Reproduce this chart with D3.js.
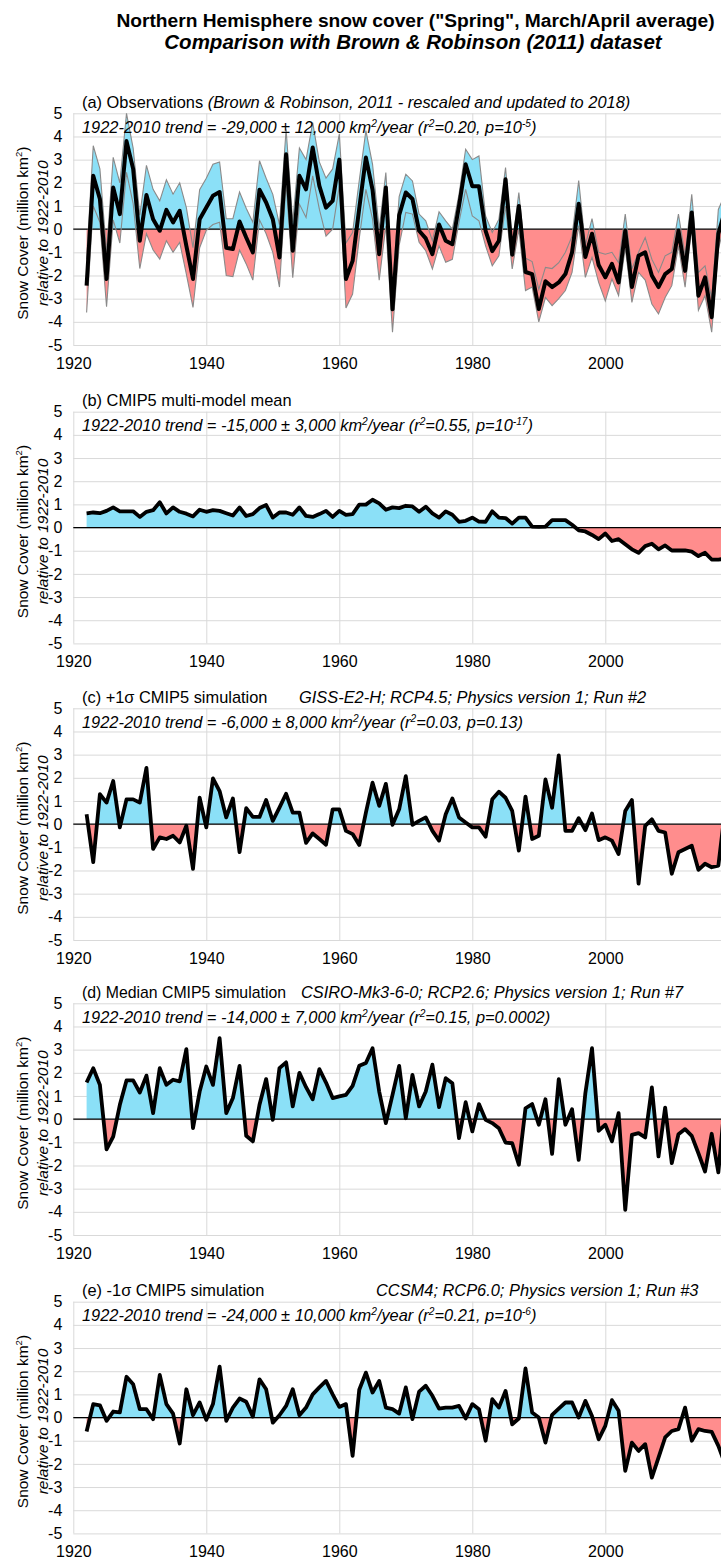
<!DOCTYPE html>
<html>
<head>
<meta charset="utf-8">
<script src="https://cdn.jsdelivr.net/npm/d3@7"></script>
<style>
  body { margin: 0; background: #fff; }
  svg { display: block; font-family: "Liberation Sans", Arial, sans-serif; }
</style>
</head>
<body>
<svg id="chart" width="721" height="1562"></svg>
<script>
// ---- data: spring (Mar/Apr) snow cover anomalies, million km², 1922-2018 ----
const firstYear = 1922;

// (a) observations: best estimate and uncertainty envelope
const obsMean = [
  -2.44, 2.3, 1.3, -2.15, 1.8, 0.65, 3.8, 2.6, -0.5, 1.47,
  0.43, -0.07, 0.83, 0.29, 0.79, -0.72, -2.15, 0.43, 0.93, 1.44,
  1.6, -0.8, -0.86, 0.33, -0.36, -1.0, 1.7, 1.15, 0.43, -1.22,
  3.23, -0.93, 2.3, 1.72, 3.52, 1.87, 0.93, 1.22, 3.0, -2.15,
  -1.37, 0.9, 3.09, 1.7, -1.08, 1.8, -3.46, 0.6, 1.58, 1.3,
  -0.07, -0.4, -1.08, 0.2, -0.5, -0.65, 1.0, 2.8, 1.85, 1.85,
  -0.07, -0.95, -0.5, 2.15, -1.1, 1.0, -1.85, -1.94, -3.45, -2.25,
  -2.5, -2.3, -1.94, -1.0, 1.1, -1.2, -0.2, -1.55, -2.08, -1.5,
  -2.3, -0.07, -2.5, -1.15, -1.0, -2.0, -2.5, -1.94, -1.72, -0.07,
  -1.8, 0.72, -2.87, -2.08, -3.8, -0.2, 0.8
];
const obsUpper = [
  -1.3, 3.6, 2.6, -1.0, 3.1, 2.0, 5.0, 3.5, 0.6, 2.75,
  1.72, 1.22, 2.13, 1.51, 2.0, 0.93, -0.8, 1.7, 2.2, 2.8,
  2.9, 0.45, 0.45, 1.6, 0.9, 0.3, 2.95, 2.2, 1.5, 0.2,
  4.3, 0.3, 3.5, 3.0, 4.6, 2.9, 2.2, 2.6, 4.1, -0.6,
  -0.15, 2.1, 4.25, 2.8, 0.0, 2.44, -2.5, 1.4, 2.37, 2.08,
  0.65, 0.36, -0.5, 0.75, 0.36, 0.0, 1.5, 3.45, 3.0, 3.16,
  0.57, -0.14, 0.43, 2.66, -0.72, 1.58, -1.25, -1.4, -2.6, -1.65,
  -1.7, -1.45, -1.0, -0.3, 2.1, -0.7, 0.45, -1.0, -1.08, -1.0,
  -1.45, 0.65, -1.72, -1.0, -0.36, -1.3, -1.87, -1.15, -1.0, 0.65,
  -1.15, 1.5, -1.87, -1.58, -3.0, 0.85, 1.5
];
const obsLower = [
  -3.6, 1.0, 0.3, -3.35, 0.4, -0.6, 2.45, 1.1, -1.7, -0.2,
  -0.9, -1.29, -0.5, -1.0, -0.57, -1.94, -3.38, -0.8, -0.05, 0.2,
  0.3, -2.0, -2.05, -0.9, -1.5, -2.2, 0.4, -0.2, -1.0, -2.5,
  2.0, -2.1, 1.08, 0.5, 2.3, 0.86, -0.3, 0.0, 1.87, -3.4,
  -2.8, -0.4, 1.72, 0.43, -2.2, 0.14, -4.45, -0.7, 0.72, 0.65,
  -0.57, -0.93, -1.72, -0.72, -1.43, -1.3, 0.3, 1.72, 0.57, 0.36,
  -0.72, -1.58, -1.15, 1.0, -1.72, 0.0, -2.65, -2.5, -4.0, -2.95,
  -3.3, -3.0, -2.65, -1.87, 0.15, -2.08, -1.22, -2.3, -3.1, -2.15,
  -2.87, -0.8, -3.16, -1.87, -2.2, -3.23, -3.66, -2.95, -2.44, -0.72,
  -2.5, 0.15, -3.5, -2.87, -4.45, -0.86, 0.3
];

// (b) CMIP5 multi-model mean
const multiModelMean = [
  0.61, 0.65, 0.62, 0.72, 0.87, 0.7, 0.7, 0.7, 0.46, 0.68,
  0.75, 1.09, 0.61, 0.87, 0.68, 0.6, 0.48, 0.77, 0.68, 0.75,
  0.72, 0.62, 0.52, 0.87, 0.5, 0.58, 0.84, 0.97, 0.43, 0.65,
  0.65, 0.55, 0.87, 0.5, 0.46, 0.58, 0.72, 0.46, 0.72, 0.55,
  0.58, 0.99, 0.99, 1.2, 1.04, 0.77, 0.87, 0.84, 0.94, 0.91,
  0.68, 0.9, 0.61, 0.43, 0.7, 0.55, 0.25, 0.29, 0.43, 0.26,
  0.25, 0.7, 0.43, 0.41, 0.17, 0.43, 0.43, 0.04, 0.03, 0.04,
  0.32, 0.32, 0.32, 0.12, -0.12, -0.17, -0.32, -0.5, -0.26, -0.58,
  -0.5, -0.72, -0.94, -1.09, -0.8, -0.7, -0.94, -0.77, -0.99, -0.99,
  -0.99, -1.04, -1.23, -1.09, -1.38, -1.38, -1.35
];

// (c) +1 sigma simulation
const plusSigmaRun = [
  0.43, -1.64, 1.29, 0.93, 1.86, -0.14, 1.07, 1.07, 0.93, 2.43,
  -1.07, -0.57, -0.64, -0.5, -0.79, -0.07, -1.93, 1.14, -0.14, 1.97,
  1.43, 0.29, 1.11, -1.21, 0.69, 0.31, 0.31, 1.04, 0.14, 0.71,
  1.31, 0.5, 0.5, -0.81, -0.4, -0.64, -0.89, 0.64, 0.64, -0.29,
  -0.43, -0.9, 0.5, 1.79, 0.79, 1.74, -0.03, 0.64, 2.07, -0.03,
  0.14, 0.29, -0.29, -0.71, 0.43, 1.11, 0.29, 0.07, -0.14, -0.14,
  -0.54, 1.07, 1.4, 1.14, 0.57, -1.14, 1.19, -0.64, -0.5, 1.93,
  0.71, 2.97, -0.29, -0.29, 0.26, -0.26, 0.46, -0.69, -0.57, -0.71,
  -1.29, 0.57, 1.04, -2.57, -0.07, 0.21, -0.29, -0.36, -2.14, -1.21,
  -1.07, -0.93, -1.97, -1.71, -1.86, -1.79, 0.6
];

// (d) median simulation
const medianRun = [
  1.58, 2.2, 1.48, -1.3, -0.75, 0.62, 1.67, 1.67, 1.15, 1.88,
  0.26, 2.2, 1.48, 1.7, 1.63, 3.02, -0.39, 1.19, 2.27, 1.48,
  3.5, 0.26, 0.91, 2.3, -0.72, -0.96, 0.62, 1.73, -0.03, 2.2,
  2.45, 0.55, 2.0, 1.38, 0.86, 2.16, 1.58, 0.91, 0.98, 1.05,
  1.44, 2.3, 2.42, 3.06, 1.19, -0.17, 1.05, 2.3, 0.04, 1.91,
  0.55, 1.19, 2.35, 0.52, 1.77, 1.55, -0.82, 0.73, -0.53, 0.65,
  -0.03, -0.17, -0.39, -1.01, -1.04, -1.97, 0.47, 0.65, -0.24, 0.86,
  -1.5, 1.73, -0.24, 0.43, -1.76, 1.12, 3.06, -0.5, -0.24, -0.96,
  0.26, -3.91, -0.68, -0.6, -0.79, 1.37, -1.61, 0.5, -1.9, -0.65,
  -0.43, -0.72, -1.47, -2.26, -0.63, -2.3, 0.8
];

// (e) -1 sigma simulation
const minusSigmaRun = [
  -0.6, 0.58, 0.53, -0.14, 0.26, 0.22, 1.76, 1.44, 0.36, 0.36,
  -0.07, 1.84, 0.58, 0.17, -1.12, 1.22, 0.1, 0.65, -0.1, 0.58,
  2.2, -0.14, 0.43, 0.82, 0.68, 0.04, 1.65, 1.22, -0.22, 0.1,
  0.5, 1.22, 0.1, 0.43, 1.0, 1.3, 1.58, 1.0, 0.46, 0.58,
  -1.65, 1.2, 1.94, 1.08, 1.58, 0.43, 0.36, 0.17, 1.3, -0.07,
  1.12, 1.37, 0.94, 0.39, 0.43, 0.43, 0.5, -0.04, 0.58, 0.36,
  -1.0, 0.79, 0.43, 1.15, -0.29, -0.04, 2.12, 0.22, 0.0, -1.08,
  0.12, 0.39, 0.65, 0.65, 0.0, 0.72, 0.07, -0.94, -0.36, 0.75,
  0.29, -2.3, -1.08, -1.44, -1.15, -2.59, -1.73, -0.86, -0.58, -0.5,
  0.43, -1.0, -0.5, -0.58, -0.62, -1.22, -2.0
];

// axis ticks
const yTicks = [5, 4, 3, 2, 1, 0, -1, -2, -3, -4, -5];
const yTickLabels = ["5", "4", "3", "2", "1", "0", "-1", "-2", "-3", "-4", "-5"];
const xGridYears = [1920, 1940, 1960, 1980, 2000, 2020];
const xTicks = [1920, 1940, 1960, 1980, 2000];
const xTickLabels = ["1920", "1940", "1960", "1980", "2000"];

// text
const mainTitle1 = "Northern Hemisphere snow cover (\"Spring\", March/April average)";
const mainTitle2 = "Comparison with Brown & Robinson (2011) dataset";
const yTitle1 = "Snow Cover (million km^{2})";
const yTitle2 = "relative to 1922-2010";

const panels = [
  { id: "a", top: 113.3,
    title: [{ t: "(a) Observations " }, { t: "(Brown & Robinson, 2011 - rescaled and updated to 2018)", i: true }],
    trend: "1922-2010 trend = -29,000 ± 12,000 km^{2}/year (r^{2}=0.20, p=10^{-5})",
    mean: obsMean, upper: obsUpper, lower: obsLower },
  { id: "b", top: 411.7,
    title: [{ t: "(b) CMIP5 multi-model mean" }],
    trend: "1922-2010 trend = -15,000 ± 3,000 km^{2}/year (r^{2}=0.55, p=10^{-17})",
    mean: multiModelMean },
  { id: "c", top: 708.3,
    title: [{ t: "(c) +1σ CMIP5 simulation" }],
    run: { t: "GISS-E2-H; RCP4.5; Physics version 1; Run #2", x: 299 },
    trend: "1922-2010 trend = -6,000 ± 8,000 km^{2}/year (r^{2}=0.03, p=0.13)",
    mean: plusSigmaRun },
  { id: "d", top: 1003.3,
    title: [{ t: "(d) Median CMIP5 simulation" }], titleWidth: 204,
    run: { t: "CSIRO-Mk3-6-0; RCP2.6; Physics version 1; Run #7", x: 301, width: 382 },
    trend: "1922-2010 trend = -14,000 ± 7,000 km^{2}/year (r^{2}=0.15, p=0.0002)",
    mean: medianRun },
  { id: "e", top: 1301.7,
    title: [{ t: "(e) -1σ CMIP5 simulation" }],
    run: { t: "CCSM4; RCP6.0; Physics version 1; Run #3", x: 376 },
    trend: "1922-2010 trend = -24,000 ± 10,000 km^{2}/year (r^{2}=0.21, p=10^{-6})",
    mean: minusSigmaRun }
];

// ---- layout & styles ----
const plotH = 231.7;
const textSize = 16.4;
const tickSize = 16;
const blueFill = "#8be0f7";
const redFill = "#ff8d8d";
const gridColor = "#d9d9d9";
const fontStack = '"Liberation Sans", Arial, sans-serif';

const svg = d3.select("#chart");
const x = d3.scaleLinear().domain([1920, 2020]).range([73.3, 738.3]);

// Writes text containing ^{...} superscripts into a text element.
function addRich(textSel, str, italic, size) {
  const parts = str.split(/(\^\{[^}]*\})/).filter(s => s.length);
  let raised = false;
  parts.forEach(p => {
    const sup = p.startsWith("^{");
    const s = textSel.append("tspan")
      .text(sup ? p.slice(2, -1) : p)
      .style("font-style", italic ? "italic" : "normal");
    if (sup) {
      s.attr("font-size", size * 0.62).attr("dy", -size * 0.38);
      raised = true;
    } else if (raised) {
      s.attr("dy", size * 0.38);
      raised = false;
    }
  });
}

// main title
svg.append("text")
  .attr("x", 415.5).attr("y", 27)
  .attr("text-anchor", "middle")
  .attr("font-size", 19.2).attr("font-weight", "bold")
  .text(mainTitle1);
svg.append("text")
  .attr("x", 413).attr("y", 49)
  .attr("text-anchor", "middle")
  .attr("font-size", 20.5).attr("font-weight", "bold").attr("font-style", "italic")
  .text(mainTitle2);

panels.forEach(p => {
  const top = p.top, bottom = top + plotH;
  const y = d3.scaleLinear().domain([-5, 5]).range([bottom, top]);
  const g = svg.append("g").attr("class", "panel-" + p.id);
  const data = p.mean.map((v, i) => ({ year: firstYear + i, v,
    up: p.upper ? p.upper[i] : v, lo: p.lower ? p.lower[i] : v }));

  // gridlines via axes
  g.append("g")
    .attr("transform", `translate(${x(1920)},0)`)
    .call(d3.axisLeft(y).tickValues(yTicks).tickSize(-(x(2020) - x(1920))).tickFormat(""))
    .call(a => a.select(".domain").remove())
    .call(a => a.selectAll("line").attr("stroke", gridColor).attr("stroke-width", 1));
  g.append("g")
    .attr("transform", `translate(0,${bottom})`)
    .call(d3.axisBottom(x).tickValues(xGridYears).tickSize(-plotH).tickFormat(""))
    .call(a => a.select(".domain").remove())
    .call(a => a.selectAll("line").attr("stroke", gridColor).attr("stroke-width", 1));

  // clip regions above and below zero
  const defs = g.append("defs");
  defs.append("clipPath").attr("id", "above-" + p.id)
    .append("rect").attr("x", x(1920)).attr("y", top - 20)
    .attr("width", x(2020) - x(1920)).attr("height", y(0) - top + 20);
  defs.append("clipPath").attr("id", "below-" + p.id)
    .append("rect").attr("x", x(1920)).attr("y", y(0))
    .attr("width", x(2020) - x(1920)).attr("height", bottom - y(0));

  const areaUp = d3.area().x(d => x(d.year)).y0(y(0)).y1(d => y(d.up));
  const areaLo = d3.area().x(d => x(d.year)).y0(y(0)).y1(d => y(d.lo));
  g.append("path").datum(data).attr("d", areaUp)
    .attr("fill", blueFill).attr("clip-path", `url(#above-${p.id})`);
  g.append("path").datum(data).attr("d", areaLo)
    .attr("fill", redFill).attr("clip-path", `url(#below-${p.id})`);

  // zero line
  g.append("line")
    .attr("x1", x(1920)).attr("x2", x(2020))
    .attr("y1", y(0)).attr("y2", y(0))
    .attr("stroke", "#000").attr("stroke-width", 1.3);

  // envelope lines
  if (p.upper) {
    const lineUp = d3.line().x(d => x(d.year)).y(d => y(d.up));
    const lineLo = d3.line().x(d => x(d.year)).y(d => y(d.lo));
    g.append("path").datum(data).attr("d", lineUp)
      .attr("fill", "none").attr("stroke", "#8a8a8a").attr("stroke-width", 1.1);
    g.append("path").datum(data).attr("d", lineLo)
      .attr("fill", "none").attr("stroke", "#8a8a8a").attr("stroke-width", 1.1);
  }

  // central series
  const line = d3.line().x(d => x(d.year)).y(d => y(d.v));
  g.append("path").datum(data).attr("d", line)
    .attr("fill", "none").attr("stroke", "#000")
    .attr("stroke-width", p.upper ? 4 : 3.8)
    .attr("stroke-linejoin", "round");

  // y tick labels
  g.append("g")
    .attr("transform", `translate(${x(1920) - 11},0)`)
    .call(d3.axisLeft(y).tickValues(yTicks).tickSize(0).tickPadding(0)
      .tickFormat((d, i) => yTickLabels[i]))
    .call(a => a.select(".domain").remove())
    .call(a => a.selectAll("text")
      .attr("font-family", fontStack)
      .attr("font-size", tickSize).attr("fill", "#000"));

  // x tick labels
  g.append("g")
    .attr("transform", `translate(0,${bottom + 12.5})`)
    .call(d3.axisBottom(x).tickValues(xTicks).tickSize(0).tickPadding(0)
      .tickFormat((d, i) => xTickLabels[i]))
    .call(a => a.select(".domain").remove())
    .call(a => a.selectAll("text")
      .attr("font-family", fontStack)
      .attr("font-size", tickSize).attr("fill", "#000"));

  // panel title
  const tt = g.append("text").attr("x", 82).attr("y", top - 5.6).attr("font-size", textSize);
  if (p.titleWidth) tt.attr("textLength", p.titleWidth).attr("lengthAdjust", "spacingAndGlyphs");
  p.title.forEach(s => tt.append("tspan").text(s.t).style("font-style", s.i ? "italic" : "normal"));
  if (p.run) {
    const rt = g.append("text").attr("x", p.run.x).attr("y", top - 5.6)
      .attr("font-size", textSize).attr("font-style", "italic").text(p.run.t);
    if (p.run.width) rt.attr("textLength", p.run.width).attr("lengthAdjust", "spacingAndGlyphs");
  }

  // trend statement
  const tr = g.append("text").attr("x", 82).attr("y", top + 19.5).attr("font-size", textSize);
  addRich(tr, p.trend, true, textSize);

  // y axis title (two lines)
  const cy = (top + bottom) / 2 + 4;
  const t1 = g.append("text")
    .attr("transform", `translate(28,${cy}) rotate(-90)`)
    .attr("text-anchor", "middle").attr("font-size", 15.5);
  addRich(t1, yTitle1, false, 15.5);
  g.append("text")
    .attr("transform", `translate(48,${cy}) rotate(-90)`)
    .attr("text-anchor", "middle").attr("font-size", 15.5).attr("font-style", "italic")
    .text(yTitle2);
});
</script>
</body>
</html>
